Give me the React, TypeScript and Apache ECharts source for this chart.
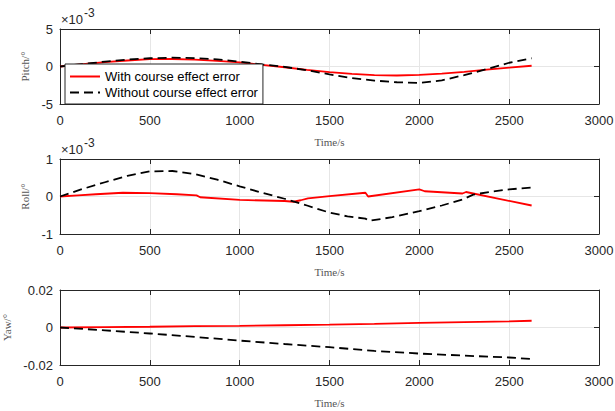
import React, { useEffect, useRef } from "react";
import * as echarts from "echarts";

// ---- data ----
const seriesNames = ["With course effect error", "Without course effect error"];
const panelNames = ["Pitch/°", "Roll/°", "Yaw/°"];
const timeTicks = [0, 500, 1000, 1500, 2000, 2500, 3000];
const pitchTicks = [-5, 0, 5]; // ×10^-3
const rollTicks = [-1, 0, 1]; // ×10^-3
const yawTicks = [-0.02, 0, 0.02];

// Pitch (×10^-3 °)
const pitchTime = [0, 125, 250, 375, 500, 625, 750, 875, 1000, 1125, 1250, 1375, 1500, 1625, 1750, 1875, 2000, 2125, 2250, 2375, 2500, 2625];
const pitchWith = [0, 0.3, 0.58, 0.8, 0.97, 1.0, 0.92, 0.76, 0.55, 0.22, -0.1, -0.45, -0.75, -0.98, -1.15, -1.2, -1.12, -0.95, -0.72, -0.42, -0.16, 0.1];
const pitchWithout = [0, 0.32, 0.65, 0.92, 1.1, 1.18, 1.12, 0.95, 0.65, 0.28, -0.05, -0.5, -1.05, -1.55, -1.88, -2.1, -2.18, -1.85, -1.15, -0.35, 0.5, 1.1];

// Roll (×10^-3 °)
const rollTimeWith = [0, 100, 200, 350, 500, 650, 760, 780, 1000, 1250, 1300, 1340, 1380, 1500, 1700, 1715, 2000, 2030, 2240, 2260, 2625];
const rollWith = [0, 0.03, 0.06, 0.1, 0.09, 0.06, 0.03, -0.02, -0.09, -0.12, -0.14, -0.1, -0.05, 0.01, 0.1, 0.0, 0.19, 0.14, 0.08, 0.12, -0.24];
const rollTimeWithout = [0, 125, 250, 375, 500, 625, 750, 875, 1000, 1125, 1250, 1375, 1500, 1600, 1700, 1720, 1850, 2000, 2125, 2240, 2300, 2400, 2500, 2625];
const rollWithout = [0, 0.2, 0.38, 0.55, 0.67, 0.68, 0.6, 0.45, 0.27, 0.1, -0.06, -0.24, -0.43, -0.53, -0.59, -0.65, -0.55, -0.39, -0.24, -0.08, 0.05, 0.13, 0.19, 0.24];

// Yaw (°)
const yawTime = [0, 250, 500, 750, 1000, 1250, 1500, 1750, 2000, 2250, 2500, 2625];
const yawWith = [0, 0.0002, 0.0004, 0.0007, 0.0009, 0.0012, 0.0015, 0.0019, 0.0025, 0.0029, 0.0033, 0.0036];
const yawWithout = [0, -0.0015, -0.0032, -0.005, -0.007, -0.0088, -0.0105, -0.0125, -0.0139, -0.015, -0.016, -0.0168];

const SANS = "'Liberation Sans', Arial, sans-serif";
const SERIF = "'Liberation Serif', 'Times New Roman', serif";
const AXIS = "#262626";

const zip = (t: number[], v: number[]) => t.map((x, i) => [x, v[i]]);

export default function App() {
  const ref = useRef<HTMLDivElement>(null);
  useEffect(() => {
    if (!ref.current) return;
    const chart = echarts.init(ref.current, undefined, { renderer: "svg" });
    const tops = [29, 159, 290];
    const yTicks = [pitchTicks, rollTicks, yawTicks];

    const grid = tops.map((top) => ({
      left: 60,
      top,
      width: 539,
      height: 75,
      containLabel: false,
      outerBoundsMode: "none",
    }));

    const xBottom = tops.map((_, i) => ({
      type: "value",
      gridIndex: i,
      position: "bottom",
      min: timeTicks[0],
      max: timeTicks[timeTicks.length - 1],
      interval: timeTicks[1] - timeTicks[0],
      axisLine: { show: true, onZero: false, lineStyle: { color: AXIS, width: 1 } },
      axisTick: { show: true, inside: true, length: 5, lineStyle: { color: AXIS } },
      axisLabel: {
        show: true,
        margin: 10,
        color: AXIS,
        fontSize: 13,
        fontFamily: SANS,
        formatter: (v: number) => String(v),
      },
      splitLine: { show: true, lineStyle: { color: "#e6e6e6", width: 1 } },
      name: "Time/s",
      nameLocation: "middle",
      nameGap: 32,
      nameTextStyle: { fontFamily: SERIF, fontSize: 11, color: "#555" },
    }));
    const xTop = tops.map((_, i) => ({
      type: "value",
      gridIndex: i,
      position: "top",
      min: timeTicks[0],
      max: timeTicks[timeTicks.length - 1],
      interval: timeTicks[1] - timeTicks[0],
      axisLine: { show: true, onZero: false, lineStyle: { color: AXIS, width: 1 } },
      axisTick: { show: true, inside: true, length: 5, lineStyle: { color: AXIS } },
      axisLabel: { show: false },
      splitLine: { show: false },
    }));
    const yLeft = tops.map((_, i) => ({
      type: "value",
      gridIndex: i,
      position: "left",
      min: yTicks[i][0],
      max: yTicks[i][yTicks[i].length - 1],
      interval: yTicks[i][1] - yTicks[i][0],
      axisLine: { show: true, onZero: false, lineStyle: { color: AXIS, width: 1 } },
      axisTick: { show: true, inside: true, length: 5, lineStyle: { color: AXIS } },
      axisLabel: {
        show: true,
        margin: 7,
        color: AXIS,
        fontSize: 13,
        fontFamily: SANS,
        formatter: (v: number) => String(Math.round(v * 1e6) / 1e6),
      },
      splitLine: { show: true, lineStyle: { color: "#e6e6e6", width: 1 } },
      name: panelNames[i],
      nameLocation: "middle",
      nameRotate: 90,
      nameGap: 20,
      nameTextStyle: { fontFamily: SERIF, fontSize: 11, color: "#555" },
    }));
    const yRight = tops.map((_, i) => ({
      type: "value",
      gridIndex: i,
      position: "right",
      min: yTicks[i][0],
      max: yTicks[i][yTicks[i].length - 1],
      interval: yTicks[i][1] - yTicks[i][0],
      axisLine: { show: true, onZero: false, lineStyle: { color: AXIS, width: 1 } },
      axisTick: { show: true, inside: true, length: 5, lineStyle: { color: AXIS } },
      axisLabel: { show: false },
      splitLine: { show: false },
    }));

    const panels = [
      [zip(pitchTime, pitchWith), zip(pitchTime, pitchWithout)],
      [zip(rollTimeWith, rollWith), zip(rollTimeWithout, rollWithout)],
      [zip(yawTime, yawWith), zip(yawTime, yawWithout)],
    ];
    const series: any[] = [];
    panels.forEach((p, i) => {
      series.push({
        type: "line",
        name: seriesNames[0],
        xAxisIndex: i,
        yAxisIndex: i,
        data: p[0],
        symbol: "none",
        showSymbol: false,
        smooth: false,
        lineStyle: { color: "#ff0000", width: 1.8, type: "solid" },
        itemStyle: { color: "#ff0000" },
        z: 2,
      });
      series.push({
        type: "line",
        name: seriesNames[1],
        xAxisIndex: i,
        yAxisIndex: i,
        data: p[1],
        symbol: "none",
        showSymbol: false,
        smooth: false,
        lineStyle: { color: "#000000", width: 1.8, type: [9, 5] },
        itemStyle: { color: "#000000" },
        z: 3,
      });
    });

    const expLabel = (y: number) => [
      {
        type: "text",
        x: 61,
        y: y,
        style: { text: "×10", font: `13px ${SANS}`, fill: AXIS, textVerticalAlign: "middle" },
      },
      {
        type: "text",
        x: 84,
        y: y - 6,
        style: { text: "-3", font: `12px ${SANS}`, fill: AXIS, textVerticalAlign: "middle" },
      },
    ];

    chart.setOption({
      animation: false,
      backgroundColor: "#ffffff",
      grid,
      xAxis: [...xBottom, ...xTop],
      yAxis: [...yLeft, ...yRight],
      legend: {
        data: seriesNames,
        orient: "vertical",
        left: 65,
        top: 64,
        itemWidth: 30,
        itemHeight: 14,
        itemGap: 3,
        padding: [6, 5, 5, 4],
        borderColor: AXIS,
        borderWidth: 1,
        borderRadius: 0,
        backgroundColor: "#ffffff",
        itemStyle: { opacity: 0, borderWidth: 0 },
        textStyle: { fontSize: 13, fontFamily: SANS, color: "#000" },
        z: 10,
      },
      graphic: [...expLabel(19), ...expLabel(149)],
      series,
    });
    return () => chart.dispose();
  }, []);
  return <div ref={ref} style={{ position: "absolute", left: 0, top: 0, width: 615, height: 411 }} />;
}
